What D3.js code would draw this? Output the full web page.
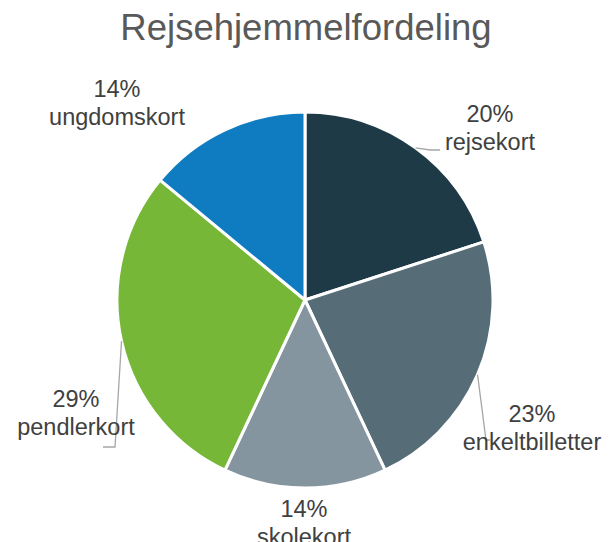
<!DOCTYPE html>
<html>
<head>
<meta charset="utf-8">
<script src="https://cdn.jsdelivr.net/npm/d3@7"></script>
<style>
  body { margin: 0; background: #fff; }
  text { font-family: "Liberation Sans", Arial, sans-serif; }
</style>
</head>
<body>
<div id="chart"></div>
<script>
// data
const categories = ['rejsekort', 'enkeltbilletter', 'skolekort', 'pendlerkort', 'ungdomskort'];
const values = [20, 23, 14, 29, 14];
const colors = ['#1f3a47', '#566d78', '#8595a0', '#77b738', '#0f7bc1'];

const width = 612;
const height = 542;
const cx = 305, cy = 300, radius = 188;

// label anchor (baseline of first line) and leader end points
const labelPos = [
  {x: 490, y: 122, end: [[430, 150], [440, 150]]},
  {x: 532, y: 422, end: [[486, 440], [490, 440]]},
  {x: 304, y: 517, end: null},
  {x: 76, y: 407, end: [[115, 447], [103, 447]]},
  {x: 117, y: 97, end: null}
];

const svg = d3.select('#chart')
  .append('svg')
  .attr('width', width)
  .attr('height', height);

svg.append('text')
  .attr('x', 306)
  .attr('y', 40)
  .attr('text-anchor', 'middle')
  .attr('font-size', 36.5)
  .attr('fill', '#595959')
  .text('Rejsehjemmelfordeling');

const pie = d3.pie().sort(null).value(d => d);
const arcs = pie(values);
const arc = d3.arc().innerRadius(0).outerRadius(radius);

const g = svg.append('g').attr('transform', `translate(${cx},${cy})`);

g.selectAll('path.slice')
  .data(arcs)
  .join('path')
  .attr('class', 'slice')
  .attr('d', arc)
  .attr('fill', (d, i) => colors[i])
  .attr('stroke', '#fff')
  .attr('stroke-width', 3)
  .attr('stroke-linejoin', 'round');

// leader lines
arcs.forEach((d, i) => {
  const p = labelPos[i];
  if (!p.end) return;
  const a = (d.startAngle + d.endAngle) / 2;
  const start = [cx + radius * Math.sin(a), cy - radius * Math.cos(a)];
  svg.append('path')
    .attr('d', d3.line()([start, ...p.end]))
    .attr('fill', 'none')
    .attr('stroke', '#a6a6a6')
    .attr('stroke-width', 1.3);
});

const labels = svg.append('g')
  .selectAll('text')
  .data(arcs)
  .join('text')
  .attr('text-anchor', 'middle')
  .attr('font-size', 23.5)
  .attr('fill', '#404040');

labels.append('tspan')
  .attr('x', (d, i) => labelPos[i].x)
  .attr('y', (d, i) => labelPos[i].y)
  .text(d => d3.format('.0%')(d.value / d3.sum(values)));

labels.append('tspan')
  .attr('x', (d, i) => labelPos[i].x)
  .attr('y', (d, i) => labelPos[i].y + 27.5)
  .text((d, i) => categories[i]);
</script>
</body>
</html>
